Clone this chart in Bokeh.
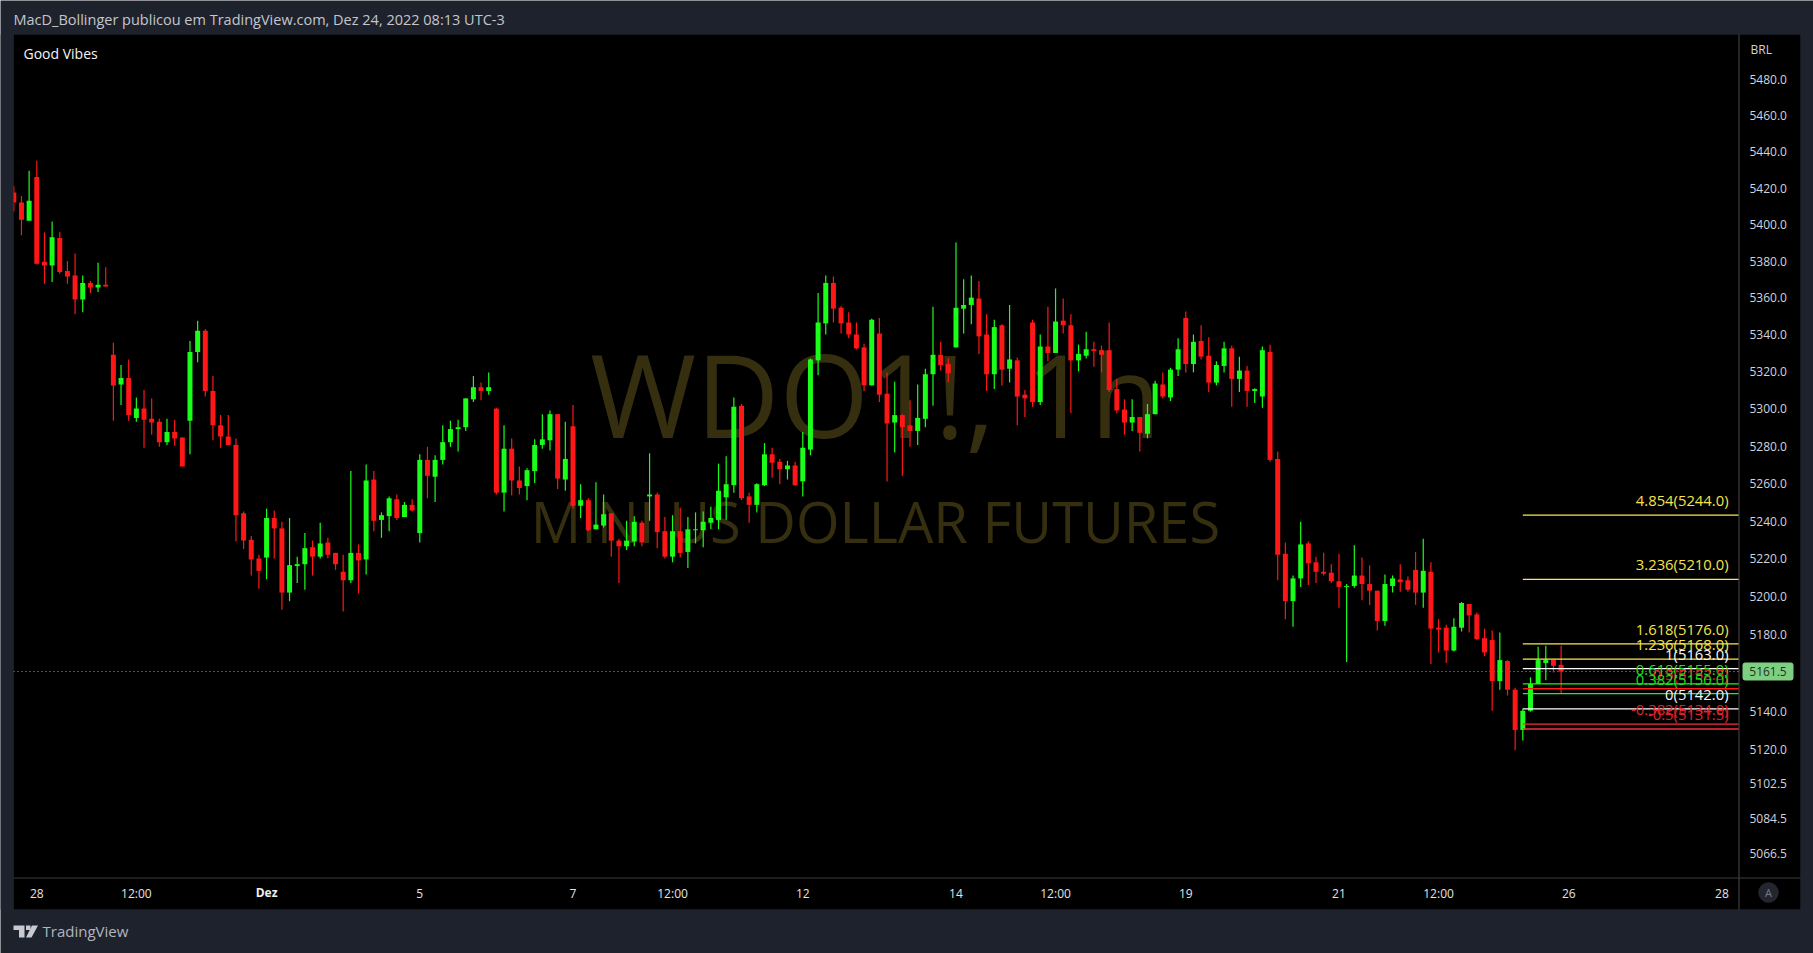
import math
from bokeh.plotting import figure
from bokeh.embed import file_html
from bokeh.resources import INLINE
from bokeh.models import (ColumnDataSource, Range1d, FixedTicker, NumeralTickFormatter,
                          Label, BoxAnnotation, PolyAnnotation, LogScale)
from bokeh.core.properties import value

opens = [5418.5,5413,5403,5427,5380.5,5378.5,5393.5,5375.5,5373,5360,
 5369,5366.5,5368,5330,5314,5317.5,5296,5301,5295.5,5294,
 5283,5288.5,5285.5,5294.5,5331.5,5343,5310.5,5292,5286,5281.5,
 5245,5231,5221,5221.5,5242.5,5237,5203,5217,5218,5227,
 5222,5229.5,5224,5214,5209.5,5224,5220.5,5263,5241.5,5243.5,
 5252.5,5243,5249.5,5234.5,5273.5,5264.5,5273.5,5283,5290,5291,
 5306,5312.5,5310.5,5301,5256,5279.5,5262.5,5259.5,5267.5,5281.5,
 5284,5298,5263,5291.5,5249,5252,5236.5,5238.5,5245,5230.5,
 5227.5,5230,5240,5254,5255,5235.5,5222,5235.5,5224.5,5236,
 5236,5240,5241.5,5253.5,5260,5302.5,5254,5249.5,5260,5276.5,
 5272.5,5268.5,5270.5,5262,5279,5327,5347,5369,5355.5,5347.5,
 5341,5334,5313.5,5341.5,5309,5293.5,5297.5,5292,5289,5295.5,
 5319.5,5330,5325,5334,5355,5357,5360.5,5341,5319.5,5346,
 5322.5,5327,5308.5,5347.5,5304.5,5334.5,5331,5348.5,5346,5327,
 5329.5,5333,5332.5,5332.5,5311.5,5300.5,5293.5,5296.5,5287.5,5298,
 5314,5307,5322,5350,5325,5337.5,5329.5,5315,5324,5333.5,
 5317,5321.5,5310.5,5307.5,5331.5,5274,5223.5,5198.5,5210.5,5229,
 5219,5214,5213.5,5209,5206,5206.5,5212,5207.5,5204,5188,
 5206.5,5210,5209.5,5215,5203,5214,5184.5,5184.5,5172.5,5184.5,
 5197,5191.5,5179,5178,5156.5,5167,5152,5131,5141,5155,
 5166,5167.5,5165]
highs = [5422,5416.5,5430.5,5436,5396.5,5402.5,5397,5381,5385,5373,
 5370,5380,5377.5,5336.5,5324.5,5327.5,5307,5311,5306.5,5295.5,
 5295.5,5295,5285.5,5337.5,5348.5,5344,5318.5,5297.5,5297.5,5285,
 5246,5233,5223,5247.5,5246.5,5240.5,5242.5,5222,5234.5,5230.5,
 5240,5232,5224,5223,5267.5,5228.5,5271,5267.5,5245.5,5254,
 5255,5251,5252.5,5276.5,5280.5,5276,5292,5294.5,5295,5306.5,
 5318.5,5315,5320.5,5301.5,5292,5285,5270,5269,5284.5,5298,
 5300,5298,5294,5303,5260.5,5253,5261.5,5255,5245,5231.5,
 5241,5243.5,5241,5277,5256,5243,5244,5248,5243,5245.5,
 5246,5248.5,5271.5,5275.5,5307,5303.5,5256,5261,5282.5,5280,
 5274,5273,5272.5,5288.5,5328,5363.5,5373,5372.5,5356.5,5353,
 5347.5,5336,5349.5,5350,5320.5,5315.5,5298,5305.5,5314,5322.5,
 5356,5337,5328,5391,5371,5373,5370,5352,5349,5346.5,
 5357,5328.5,5311,5349,5341,5356,5366,5360.5,5352,5335.5,
 5342.5,5337,5335,5347.5,5317,5306,5306,5296.5,5303.5,5316,
 5320.5,5323,5339,5353.5,5341,5346,5339.5,5326.5,5337,5335,
 5329,5324,5312,5334.5,5335.5,5278,5229.5,5212,5240.5,5230,
 5222,5224,5218,5223.5,5207.5,5228,5221.5,5217.5,5204,5212.5,
 5212,5218,5211.5,5224.5,5231.5,5219,5189,5186,5189.5,5198,
 5197,5192.5,5184,5183,5182,5167.5,5153,5142,5158.5,5174.5,
 5175,5168,5175]
lows = [5408,5395,5403,5379,5368.5,5369.5,5374,5368.5,5352,5353,
 5363.5,5364,5367,5294.5,5303,5294.5,5294,5280,5287,5280.5,
 5281.5,5281,5270,5276.5,5326,5307.5,5284,5280,5281.5,5230,
 5226,5212,5205,5210,5221,5194,5198.5,5208,5204.5,5212,
 5221,5221,5215,5193,5208,5202.5,5212.5,5235.5,5232,5235.5,
 5241.5,5243,5246,5229.5,5253,5251,5271,5280.5,5278,5289,
 5304.5,5305.5,5308.5,5255,5246,5254.5,5255,5252,5261,5279.5,
 5278.5,5258,5257,5247.5,5242.5,5235.5,5236.5,5237.5,5222,5208,
 5225.5,5227.5,5227.5,5241,5226.5,5221,5219,5221.5,5216,5229,
 5227,5236.5,5236.5,5241.5,5256,5252,5240,5245.5,5259.5,5264,
 5260.5,5263,5259.5,5254,5276,5319,5341,5347.5,5341.5,5339,
 5333,5310.5,5313.5,5304.5,5262,5277.5,5265,5280.5,5281.5,5291,
 5302.5,5321.5,5315,5334,5341.5,5346.5,5330.5,5310.5,5311.5,5313.5,
 5315,5292,5296.5,5302,5303,5326.5,5331,5341.5,5298.5,5321,
 5328,5323.5,5320.5,5310,5298.5,5287,5289,5278,5285,5298,
 5306.5,5305,5318.5,5320.5,5320.5,5327.5,5310,5313.5,5320.5,5302,
 5310,5302,5304,5301.5,5272.5,5209.5,5189,5185,5206,5207,
 5208,5212,5208,5195,5166.5,5205.5,5199,5196.5,5183,5185.5,
 5203,5203.5,5203.5,5196.5,5195,5165.5,5171.5,5166,5172,5182.5,
 5182,5178,5169.5,5141,5152,5149,5120.5,5125.5,5140.5,5155,
 5157,5161,5150]
closes = [5413,5403.5,5414,5379.5,5378.5,5394,5375,5372.5,5360,5369,
 5366.5,5368,5367,5313.5,5317.5,5297.5,5301,5295,5293.5,5283,
 5288.5,5285,5270,5331.5,5343,5310.5,5292,5286,5281.5,5244,
 5230.5,5220.5,5214.5,5242.5,5237,5203,5217.5,5218,5226.5,5222,
 5229,5223,5218,5209.5,5224,5220,5262.5,5241,5244,5253,
 5242.5,5249.5,5246.5,5273.5,5265,5273.5,5283,5290,5291,5306.5,
 5312.5,5310.5,5312.5,5256,5279.5,5262.5,5258.5,5268,5281.5,5284.5,
 5298,5263.5,5274,5249,5252,5236,5239,5244.5,5230.5,5227.5,
 5230.5,5240.5,5229.5,5255,5235,5222,5235.5,5224,5236.5,5236.5,
 5240.5,5242.5,5257,5260.5,5302,5253,5249.5,5260.5,5276.5,5272,
 5268.5,5270.5,5260,5280,5327.5,5347.5,5369,5355,5347,5341,
 5333.5,5313.5,5349,5308.5,5293,5297.5,5291,5289,5296,5319.5,
 5330,5324.5,5320,5355.5,5357,5361,5340,5319.5,5345,5322,
 5327.5,5307.5,5306.5,5304.5,5334.5,5331,5348,5346,5327,5330.5,
 5333,5332,5330,5311,5300,5293.5,5296.5,5288,5298,5314.5,
 5307.5,5322,5333,5325,5337,5329,5315,5324.5,5333.5,5317,
 5321.5,5310.5,5311.5,5332.5,5273.5,5223,5198.5,5210.5,5228.5,5218.5,
 5214,5213,5209,5206,5206.5,5212,5207.5,5204,5188,5207.5,
 5210.5,5208.5,5204.5,5203,5214.5,5184,5183.5,5172.5,5185,5197.5,
 5191,5178.5,5171.5,5156.5,5167.5,5152,5131,5141,5155,5167.5,
 5167.5,5164.5,5161.5]

x_ticks = [3,16,33,53,73,86,103,123,136,153,173,186,203,223]
x_labels = ["28","12:00","","5","7","12:00","12","14","12:00","19","21","12:00","26","28"]
month_bar = 33
month_label = "Dez"
y_ticks = [5480,5460,5440,5420,5400,5380,5360,5340,5320,5300,5280,5260,5240,5220,5200,5180,
           5140,5120,5102.5,5084.5,5066.5]

fib_ratio = ["4.854","3.236","1.618","1.236","1","0.618","0.5","0.382","0","-0.382","-0.5"]
fib_price = [5244,5210,5176,5168,5163,5155,5152.5,5150,5142,5134,5131.5]
fib_line = ["#fbe94f","#fbe94f","#fbe94f","#fbe94f","#ffffff","#22f022","#ff1a1a","#22f022","#ffffff","#f0323c","#f0323c"]
fib_text = ["#f7e44a","#f7e44a","#f7e44a","#f7e44a","#f8f8f8","#1fe01f","#e0232e","#1fe01f","#f8f8f8","#e0232e","#e0232e"]
fib_start_bar = 197
last_price = 5161.5

BG = "#1e222d"
FONT = "Open Sans"
BAR_PX = 7.66
W, H = 1813, 953
PANE_L, PANE_R, PANE_T, PANE_B = 13, 1738, 34, 877

# the plot frame fills the whole canvas, so that every text can be placed anywhere
def px(page_x):
    return (page_x - 13.3) / BAR_PX

K = (PANE_B - PANE_T) / math.log(5506.0 / 5054.8)

def py(page_y):
    return 5506.0 * math.exp(-(page_y - PANE_T) / K)

p = figure(width=W, height=H, output_backend="svg", toolbar_location=None,
           x_range=Range1d(px(0), px(W)), y_range=Range1d(py(H), py(0)), y_axis_type="log",
           y_axis_location="right", min_border=0, background_fill_color=BG,
           border_fill_color=BG, outline_line_color=None)
p.grid.visible = False

# the price labels sit a little above their exact level in the reference
p.extra_y_ranges = {"labels": Range1d(py(H + 1.5), py(1.5))}
p.extra_y_scales = {"labels": LogScale()}

def box(l, r, t, b, fill, line=None, level="underlay", radius=0):
    p.add_layout(BoxAnnotation(left=l, right=r, top=t, bottom=b, left_units="canvas", right_units="canvas",
                               top_units="canvas", bottom_units="canvas", fill_color=fill, fill_alpha=1,
                               line_color=line, line_width=1, level=level, border_radius=radius))

def text(x, y, s, color, size, align="left", level="annotation", style="normal", x_units="canvas"):
    p.add_layout(Label(x=x, y=y, x_units=x_units, y_units="canvas", text=s, text_color=color, text_font=FONT,
                       text_font_size=size, text_align=align, text_baseline="middle", level=level,
                       text_font_style=style))

# black panel behind plot and axes, with its separators
box(13, 1800, 34, 909, "#000000", "#2a2e39")
box(1738, 1739, 34, 909, "#4a4a4a")
box(13, 1800, 877, 878, "#3d3d3d")

# watermark
text(875, 392.5, "WDO1!, 1h", "#352f10", "115px", align="center", level="underlay")
text(875, 520.5, "MINI US DOLLAR FUTURES", "#352f10", "56px", align="center", level="underlay")

idx = list(range(len(opens)))
colors = ["#19ff19" if c >= o else "#ff1616" for o, c in zip(opens, closes)]
src = ColumnDataSource(dict(x=idx, o=opens, h=highs, l=lows, c=closes, color=colors,
                            top=[max(a, b) for a, b in zip(opens, closes)],
                            bot=[min(a, b) for a, b in zip(opens, closes)]))

# last price line
p.line([px(PANE_L), px(PANE_R)], [last_price, last_price], line_color="#7fc98a", line_width=1, line_dash="1 3")

p.segment(x0="x", x1="x", y0="l", y1="h", line_color="color", line_width=1.2, source=src)
p.vbar(x="x", width=0.65, top="top", bottom="bot", fill_color="color", line_color=None, source=src)

# fib levels
for r, v, lc, tc in zip(fib_ratio, fib_price, fib_line, fib_text):
    p.line([fib_start_bar, px(PANE_R)], [v, v], line_color=lc, line_width=1.3)
    p.text([px(1728)], [v], text=[f"{r}({v:.1f})"], text_align="right", text_baseline="middle",
           y_offset=-15, text_color=tc, text_font=value(FONT), text_font_size="14.8px")

# hide what a candle puts past the left edge of the pane
box(0, 13, 34, 909, BG, level="overlay")

# axes
ax = p.yaxis[0]
ax.y_range_name = "labels"
ax.ticker = FixedTicker(ticks=y_ticks, minor_ticks=[])
ax.formatter = NumeralTickFormatter(format="0.0")
ax.major_tick_line_color = None
ax.minor_tick_line_color = None
ax.major_tick_out = 0
ax.major_tick_in = 0
ax.axis_line_color = None
ax.major_label_text_color = "#d1d4dc"
ax.major_label_text_font = FONT
ax.major_label_text_font_size = "12px"
ax.major_label_standoff = -64

bx = p.xaxis[0]
bx.ticker = FixedTicker(ticks=x_ticks, minor_ticks=[])
bx.major_label_overrides = {t: s for t, s in zip(x_ticks, x_labels)}
bx.major_tick_line_color = None
bx.minor_tick_line_color = None
bx.major_tick_out = 0
bx.major_tick_in = 0
bx.axis_line_color = None
bx.major_label_text_color = "#e4e4e4"
bx.major_label_text_font = FONT
bx.major_label_text_font_size = "12px"
bx.major_label_standoff = -69

# texts
text(month_bar, 892, month_label, "#f0f0f0", "12px", align="center", style="bold", x_units="data")
text(13, 19, "MacD_Bollinger publicou em TradingView.com, Dez 24, 2022 08:13 UTC-3", "#c4c6cc", "14.5px")
text(23, 53, "Good Vibes", "#f5f5f5", "14px")
text(1750, 49, "BRL", "#d1d4dc", "12px")
text(42, 930, "TradingView", "#b2b5be", "15px")
box(1758, 1778, 882, 902, "#23262f", "#363a45", level="annotation", radius=10)
text(1768, 892, "A", "#787b86", "11px", align="center")

# price tag
box(1742, 1793, 662, 680, "#7fcf82", level="annotation", radius=3)
text(1767.5, 671, f"{last_price:.1f}", "#22332a", "12px", align="center")

# logo
for pts in ([(13, 925), (24, 925), (24, 937), (18.5, 937), (18.5, 929.5), (13, 929.5)],
            [(25.5, 925), (30, 925), (30, 929.5), (25.5, 929.5)],
            [(37.5, 925), (31, 937), (25.5, 937), (31.5, 925)]):
    p.add_layout(PolyAnnotation(xs=[a for a, _ in pts], ys=[b for _, b in pts], xs_units="canvas", ys_units="canvas",
                                fill_color="#c8cad0", fill_alpha=1, line_color=None))

open("out.html", "w").write(file_html(p, INLINE))
